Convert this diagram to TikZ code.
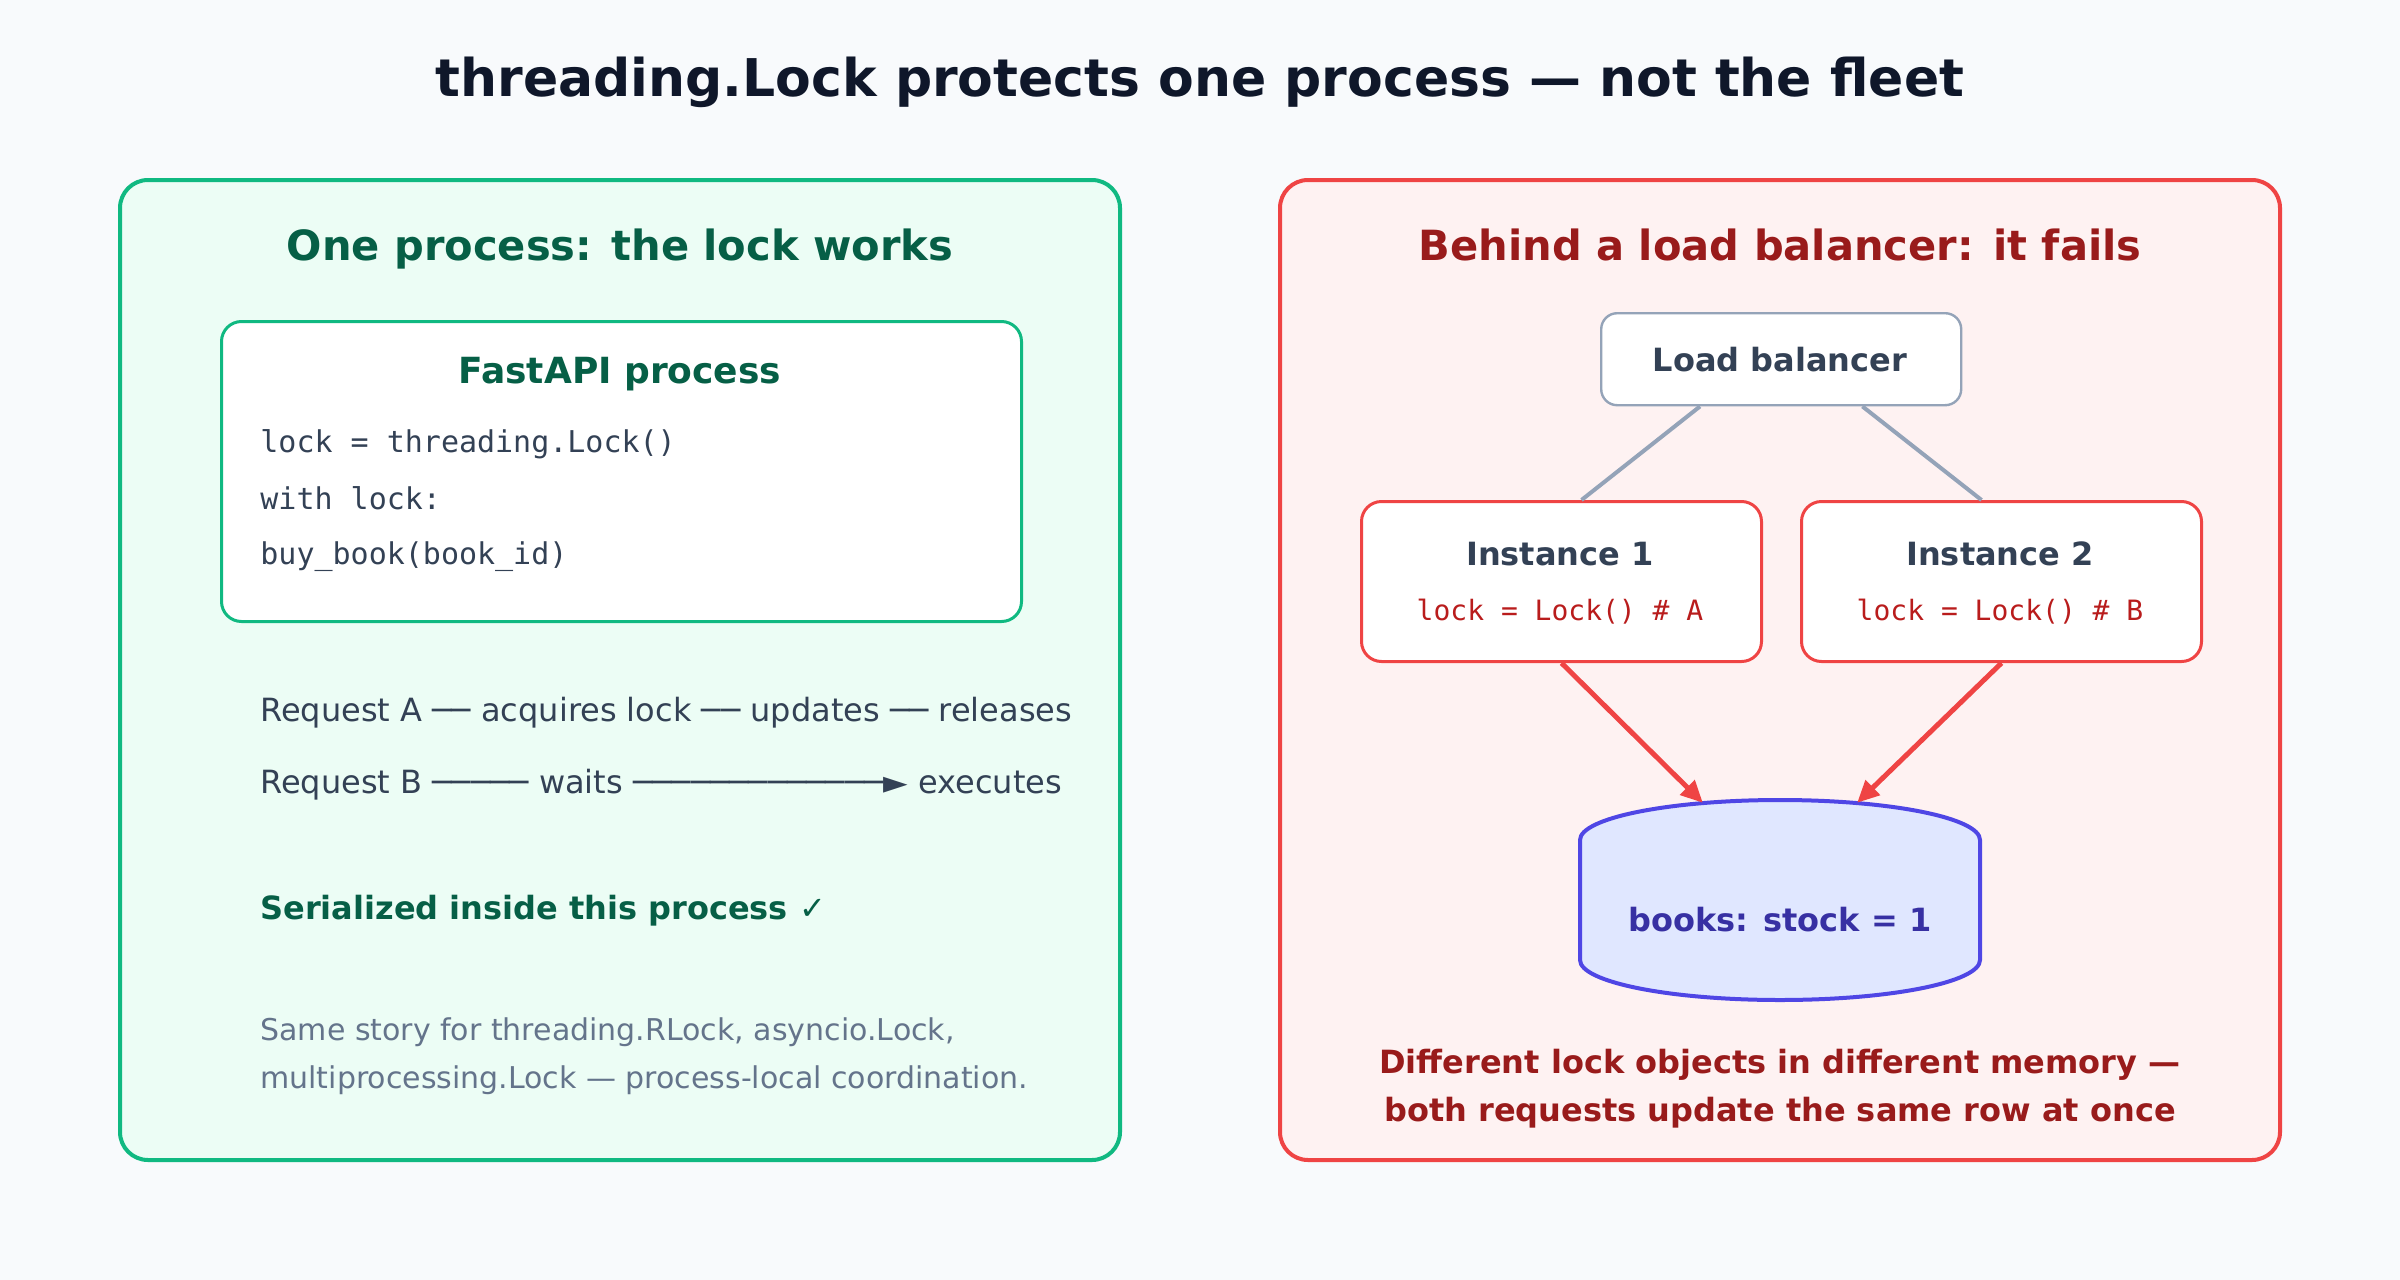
\documentclass[tikz,border=0pt]{standalone}
\usepackage{fontspec}
\setmainfont{DejaVu Sans}
\setmonofont{DejaVu Sans Mono}
\usetikzlibrary{arrows.meta, positioning}

\definecolor{bgcol}{HTML}{F8FAFC}
\definecolor{inkcol}{HTML}{0F172A}
\definecolor{slatecol}{HTML}{334155}
\definecolor{mutedcol}{HTML}{64748B}
\definecolor{okfill}{HTML}{ECFDF5}
\definecolor{okline}{HTML}{10B981}
\definecolor{oktext}{HTML}{065F46}
\definecolor{badfill}{HTML}{FEF2F2}
\definecolor{badline}{HTML}{EF4444}
\definecolor{badtext}{HTML}{991B1B}
\definecolor{codered}{HTML}{B91C1C}
\definecolor{lbline}{HTML}{94A3B8}
\definecolor{dbfill}{HTML}{E0E7FF}
\definecolor{dbline}{HTML}{4F46E5}
\definecolor{dbtext}{HTML}{3730A3}

\begin{document}
\begin{tikzpicture}
                [x=1pt, y=-1pt,
                panelsty/.style={rounded corners=14pt, line width=2pt},
                boxsty/.style={draw, fill=white, rounded corners=10pt, line width=1.5pt, inner sep=0pt, anchor=north west},
                headsty/.style={font=\bfseries\fontsize{20.8}{24}\selectfont, inner sep=0pt, anchor=base},
                boldsty/.style={font=\bfseries\fontsize{16}{20}\selectfont, inner sep=0pt},
                txtsty/.style={font=\fontsize{16}{20}\selectfont, text=slatecol, inner sep=0pt, anchor=west},
                codesty/.style={font=\ttfamily\fontsize{15}{18}\selectfont, text=slatecol, inner sep=0pt, anchor=west},
                redarrow/.style={-{Triangle[length=11pt, width=10pt]}, draw=badline, line width=2.5pt, shorten >=-2pt}]
                % canvas
                \fill[bgcol] (0,0) rectangle (1200,640);
                \node[font=\bfseries\fontsize{26}{30}\selectfont, text=inkcol, inner sep=0pt] (title) at (600,41) {threading.Lock protects one process — not the fleet};
                % panels
                \draw[panelsty, fill=okfill, draw=okline] (60,90) rectangle (560,580);
                \draw[panelsty, fill=badfill, draw=badline] (640,90) rectangle (1140,580);
                \node[headsty, text=oktext] (lhead) at (310,130) {One process: the lock works};
                \node[headsty, text=badtext] (rhead) at (890,130) {Behind a load balancer: it fails};
                % left side
                \node[boxsty, draw=okline, minimum width=400pt, minimum height=150pt] (fast) at (110,160) {};
                \node[boldsty, font=\bfseries\fontsize{18}{22}\selectfont, text=oktext] (fasthead) at (310,187) {FastAPI process};
                \node[codesty] (code1) at (130,222) {lock = threading.Lock()};
                \node[codesty] (code2) at (130,249) {with lock:};
                \node[codesty] (code3) at (130,278.5) {buy\_book(book\_id)};
                \node[txtsty] (reqa) at (130,356.3) {Request A ── acquires lock ── updates ── releases};
                \node[txtsty] (reqb) at (130,392.3) {Request B ───── waits ─────────────► executes};
                \node[txtsty, font=\bfseries\fontsize{16}{20}\selectfont, text=oktext] (serial) at (130,455.5) {Serialized inside this process ✓};
                \node[txtsty, font=\fontsize{15}{24}\selectfont, text=mutedcol, align=left] (story) at (130,528.3) {Same story for threading.RLock, asyncio.Lock,\\multiprocessing.Lock — process-local coordination.};
                % right side
                \node[boxsty, draw=lbline, line width=1.2pt, rounded corners=8pt, minimum width=180pt, minimum height=46pt] (lb) at (800,156) {};
                \node[boldsty, text=slatecol] (lbtext) at (890,180) {Load balancer};
                \node[boxsty, draw=badline, minimum width=200pt, minimum height=80pt] (i1) at (680,250) {};
                \node[boxsty, draw=badline, minimum width=200pt, minimum height=80pt] (i2) at (900,250) {};
                \node[boldsty, text=slatecol] (i1head) at (780,276.8) {Instance 1};
                \node[font=\ttfamily\fontsize{14}{17}\selectfont, text=codered, inner sep=0pt] (i1code) at (780,305.8) {lock = Lock() \# A};
                \node[boldsty, text=slatecol] (i2head) at (1000,276.8) {Instance 2};
                \node[font=\ttfamily\fontsize{14}{17}\selectfont, text=codered, inner sep=0pt] (i2code) at (1000,305.8) {lock = Lock() \# B};
                \draw[lbline, line width=2pt] ([xshift=50pt]lb.south west) -- ([xshift=10pt]i1.north);
                \draw[lbline, line width=2pt] ([xshift=-50pt]lb.south east) -- ([xshift=-10pt]i2.north);
                % database
                \draw[fill=dbfill, draw=dbline, line width=2pt] (790,420) -- (790,480) arc[start angle=180, end angle=0, x radius=100, y radius=20] -- (990,420) arc[start angle=0, end angle=-180, x radius=100, y radius=20] -- cycle;
                \coordinate (dbtop) at (890,400);
                \node[boldsty, text=dbtext] (db) at (890,460) {books: stock = 1};
                \draw[redarrow] (i1.south) -- ([xshift=-40pt]dbtop);
                \draw[redarrow] (i2.south) -- ([xshift=40pt]dbtop);
                \node[boldsty, font=\bfseries\fontsize{16}{24}\selectfont, text=badtext, align=center] (note) at (890,544.3) {Different lock objects in different memory —\\both requests update the same row at once};
            \end{tikzpicture}
\end{document}
